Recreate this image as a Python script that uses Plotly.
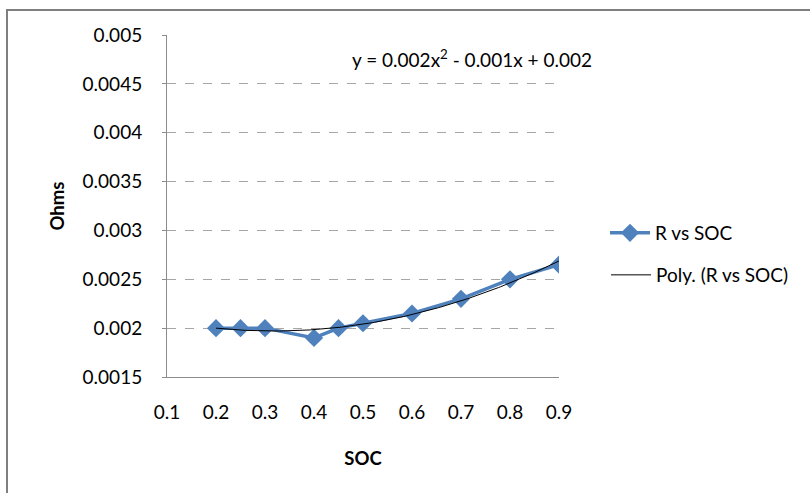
import numpy as np
import plotly.graph_objects as go

# Resistance vs state of charge
soc = [0.2, 0.25, 0.3, 0.4, 0.45, 0.5, 0.6, 0.7, 0.8, 0.9]
ohms = [0.002, 0.002, 0.002, 0.0019, 0.002, 0.00205, 0.00215, 0.0023, 0.0025, 0.00265]

x_ticks = [0.1, 0.2, 0.3, 0.4, 0.5, 0.6, 0.7, 0.8, 0.9]
y_ticks = [0.0015, 0.002, 0.0025, 0.003, 0.0035, 0.004, 0.0045, 0.005]
y_tick_text = ["0.0015", "0.002", "0.0025", "0.003", "0.0035", "0.004", "0.0045", "0.005"]
equation = "y = 0.002x<sup>2</sup> - 0.001x + 0.002"

# Second-order polynomial trend line
coef = np.polyfit(soc, ohms, 2)
xs = np.linspace(min(soc), max(soc), 200)
ys = np.polyval(coef, xs)

FONT = "Lato, 'Open Sans', sans-serif"
BLUE = "#4F81BD"
W, H = 810, 493
L, R, T, B = 167, 251, 35, 116
pw = W - L - R
ph = H - T - B


def px(x):
    """Pixel column -> paper x."""
    return (x - L) / pw


def py(y):
    """Pixel row -> paper y."""
    return (H - B - y) / ph


fig = go.Figure()
fig.add_trace(go.Scatter(
    x=soc, y=ohms, mode="lines+markers", name="R vs SOC",
    line=dict(color=BLUE, width=3.5),
    marker=dict(symbol="diamond", size=14, color=BLUE),
    legend="legend",
))
fig.add_trace(go.Scatter(
    x=xs, y=ys, mode="lines", name="Poly. (R vs SOC)",
    line=dict(color="black", width=1),
    legend="legend2",
))

# outer chart frame; right and bottom edges fall outside the page
fig.add_shape(type="rect", xref="paper", yref="paper",
              x0=px(7), x1=px(820), y0=py(505), y1=py(10),
              line=dict(color="#7f7f7f", width=2), fillcolor="rgba(0,0,0,0)",
              layer="below")
fig.add_shape(type="line", xref="paper", yref="paper",
              x0=px(7), x1=px(810), y0=py(10), y1=py(10),
              line=dict(color="#7f7f7f", width=2), layer="above")

fig.add_annotation(x=px(472), y=py(58), xref="paper", yref="paper",
                   xanchor="center", yanchor="middle",
                   text=equation, showarrow=False,
                   font=dict(family=FONT, size=19, color="black"))

legend_common = dict(xanchor="left", yanchor="middle", font=dict(family=FONT, size=19),
                     bgcolor="rgba(0,0,0,0)", itemwidth=40)

fig.update_layout(
    width=W, height=H,
    margin=dict(l=L, r=R, t=T, b=B, autoexpand=False),
    paper_bgcolor="white", plot_bgcolor="white",
    font=dict(family=FONT, size=19, color="black"),
    showlegend=True,
    legend=dict(x=px(605), y=py(233), **legend_common),
    legend2=dict(x=px(606), y=py(275), **legend_common),
    modebar=dict(bgcolor="rgba(0,0,0,0)"),
    xaxis=dict(range=[0.1, 0.9], tickvals=x_ticks, ticktext=[str(v) for v in x_ticks],
               showgrid=False, zeroline=False, showline=True, linecolor="#8c8c8c",
               linewidth=1, ticks="", ticklabelstandoff=18,
               title=dict(text="<b>SOC</b>", font=dict(size=18.5), standoff=30)),
    yaxis=dict(range=[0.0015, 0.005], tickvals=y_ticks, ticktext=y_tick_text,
               showgrid=True, gridcolor="#a6a6a6", griddash="dash", gridwidth=1,
               zeroline=False, showline=True, linecolor="#8c8c8c", linewidth=1,
               ticks="outside", ticklen=4, tickcolor="#8c8c8c", ticklabelstandoff=16,
               title=dict(text="<b>Ohms</b>", font=dict(size=18.5), standoff=13)),
)

fig.write_html("out.html", config={"displayModeBar": False})
